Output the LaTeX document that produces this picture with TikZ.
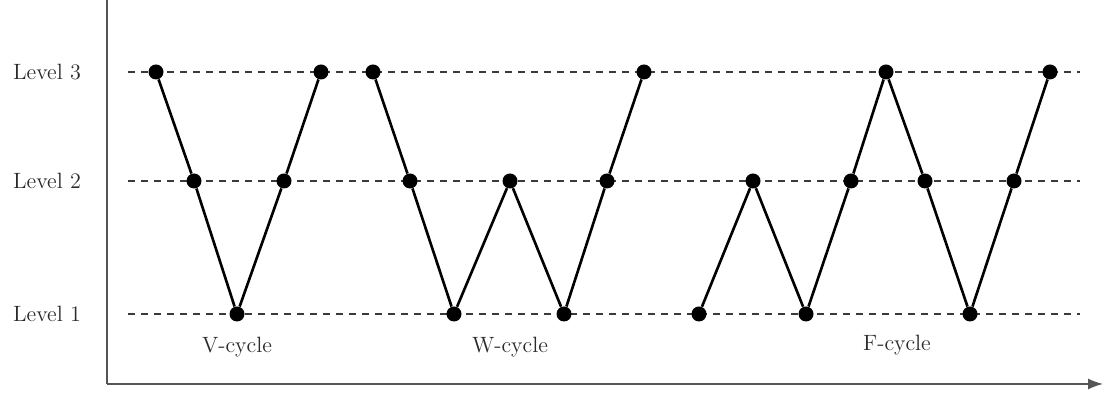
\documentclass[tikz,border=0pt]{standalone}
\usepackage{xcolor}
\usepackage{tikz}
\usetikzlibrary{arrows.meta}
\definecolor{ink}{HTML}{000000}
\definecolor{txt}{HTML}{2A2A2A}
\definecolor{axline}{HTML}{555555}
\definecolor{dashline}{HTML}{3A3A3A}
\newcommand{\lbl}{\fontsize{12.6}{15}\selectfont}

\begin{document}
\begin{tikzpicture}[
  text=txt, font=\lbl,
  pt/.style={circle, fill=ink, minimum size=3mm, inner sep=0pt},
  lvl/.style={draw=dashline, line width=0.65pt, dash pattern=on 4pt off 3.4pt},
  cyc/.style={draw=ink, line width=1.5pt},
  ax/.style={draw=axline, line width=0.8pt},
]
\useasboundingbox (0,0) rectangle (22.1,7.86);
% ---------------- axes ----------------
\coordinate (o) at (2.14,0.18);
\coordinate (top) at (2.14,7.86);
\coordinate (end) at (22.06,0.18);
\draw[ax] (top) -- (o);
\draw[ax, -{Latex[length=3mm, width=2.2mm]}] (o) -- (end);
% ---------------- levels ----------------
\foreach \k/\y in {1/1.58, 2/4.24, 3/6.42} {
  \node (lab\k) at (0.94,\y) {Level \k};
  \coordinate (a\k) at (2.56,\y);
  \coordinate (b\k) at (21.6,\y);
  \draw[lvl] (a\k) -- (b\k);
}
% ---------------- V-cycle ----------------
\foreach \n/\x/\y in {1/3.12/6.42, 2/3.88/4.24, 3/4.74/1.58, 4/5.68/4.24, 5/6.42/6.42}
  \node[pt] (v\n) at (\x,\y) {};
\draw[cyc] (v1) -- (v2) -- (v3) -- (v4) -- (v5);
\node (vlab) at (4.74,0.92) {V-cycle};
% ---------------- W-cycle ----------------
\foreach \n/\x/\y in {1/7.46/6.42, 2/8.2/4.24, 3/9.08/1.58, 4/10.2/4.24, 5/11.28/1.58, 6/12.14/4.24, 7/12.88/6.42}
  \node[pt] (w\n) at (\x,\y) {};
\draw[cyc] (w1) -- (w2) -- (w3) -- (w4) -- (w5) -- (w6) -- (w7);
\node (wlab) at (10.2,0.92) {W-cycle};
% ---------------- F-cycle ----------------
\foreach \n/\x/\y in {1/13.98/1.58, 2/15.06/4.24, 3/16.12/1.58, 4/17.02/4.24, 5/17.72/6.42,
                      6/18.5/4.24, 7/19.4/1.58, 8/20.28/4.24, 9/21.0/6.42}
  \node[pt] (f\n) at (\x,\y) {};
\draw[cyc] (f1) -- (f2) -- (f3) -- (f4) -- (f5) -- (f6) -- (f7) -- (f8) -- (f9);
\node (flab) at (17.94,0.96) {F-cycle};
\end{tikzpicture}
\end{document}
